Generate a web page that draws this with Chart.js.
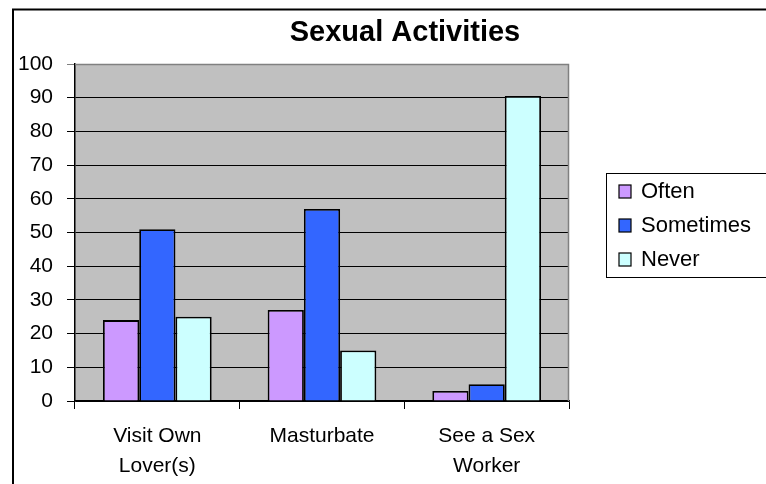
<!DOCTYPE html>
<html><head><meta charset="utf-8">
<script src="https://cdn.jsdelivr.net/npm/chart.js@4/dist/chart.umd.min.js"></script>
<style>html,body{margin:0;padding:0;background:#fff}#wrap{width:766px;height:484px}</style>
</head><body><div id="wrap"><canvas id="c" width="766" height="484"></canvas></div>
<script>
const chartTitle = "Sexual Activities";
const categories = [["Visit Own","Lover(s)"], "Masturbate", ["See a Sex","Worker"]];
const seriesNames = ["Often", "Sometimes", "Never"];
const often = [24, 27, 3];
const sometimes = [51, 57, 5];
const never = [25, 15, 90.5];
const yTicks = [0,10,20,30,40,50,60,70,80,90,100];
const colors = ["#CC99FF", "#3366FF", "#CCFFFF"];
const FONT = "'Liberation Sans', Arial, sans-serif";

const framePlugin = {
  id: 'frame',
  beforeDraw(chart) {
    const ctx = chart.ctx, a = chart.chartArea;
    ctx.save();
    ctx.fillStyle = '#fff';
    ctx.fillRect(0, 0, chart.width, chart.height);
    ctx.strokeStyle = '#000'; ctx.lineWidth = 2;
    ctx.beginPath(); ctx.moveTo(13, 484); ctx.lineTo(13, 9.5); ctx.lineTo(766, 9.5); ctx.stroke();
    ctx.fillStyle = '#C0C0C0';
    ctx.fillRect(a.left, a.top, a.right - a.left, a.bottom - a.top);
    // title
    ctx.fillStyle = '#000';
    ctx.font = 'bold 29px ' + FONT;
    ctx.textAlign = 'center'; ctx.textBaseline = 'middle';
    ctx.fillText(chartTitle, 405, 33);
    ctx.restore();
  },
  beforeDatasetsDraw(chart) {
    const ctx = chart.ctx, a = chart.chartArea;
    ctx.save();
    ctx.strokeStyle = '#808080'; ctx.lineWidth = 1.5;
    ctx.beginPath(); ctx.moveTo(a.left, a.top + 0.5); ctx.lineTo(a.right - 0.5, a.top + 0.5); ctx.lineTo(a.right - 0.5, a.bottom); ctx.stroke();
    ctx.restore();
  },
  afterDraw(chart) {
    const ctx = chart.ctx;
    ctx.save();
    ctx.strokeStyle = '#000'; ctx.lineWidth = 1;
    ctx.strokeRect(606.5, 173.5, 170, 104);
    ctx.font = '22px ' + FONT;
    ctx.textBaseline = 'middle';
    const rows = [191, 225, 259];
    chart.data.datasets.forEach((ds, i) => {
      ctx.fillStyle = ds.backgroundColor;
      ctx.fillRect(619, rows[i] - 6, 12, 13);
      ctx.strokeStyle = '#000'; ctx.lineWidth = 1.2;
      ctx.strokeRect(619, rows[i] - 6, 12, 13);
      ctx.fillStyle = '#000';
      ctx.fillText(ds.label, 641, rows[i] + 1);
    });
    ctx.restore();
  }
};

new Chart(document.getElementById('c'), {
  type: 'bar',
  data: {
    labels: categories,
    datasets: [
      { label: seriesNames[0], data: often, backgroundColor: colors[0] },
      { label: seriesNames[1], data: sometimes, backgroundColor: colors[1] },
      { label: seriesNames[2], data: never, backgroundColor: colors[2] }
    ].map(d => Object.assign(d, { borderColor: '#000', borderWidth: 1.8, categoryPercentage: 0.66, barPercentage: 1.0 }))
  },
  options: {
    responsive: false,
    animation: false,
    layout: { padding: { left: 14, right: 0, top: 64, bottom: 0 } },
    plugins: {
      legend: { display: false },
      tooltip: { enabled: false },
      title: { display: false }
    },
    scales: {
      x: {
        grid: { display: true, drawOnChartArea: false, drawTicks: true, tickLength: 8, color: '#000', offset: true },
        border: { display: true, color: '#000', width: 1.5 },
        ticks: { color: '#000', font: { family: FONT, size: 21, lineHeight: 1.42 }, padding: 12, maxRotation: 0 },
        afterFit(s) { s.height = 83; }
      },
      y: {
        min: 0, max: 100,
        grid: { color: ctx => (ctx.tick && ctx.tick.value === 100) ? '#808080' : '#000', lineWidth: 1, tickLength: 8, drawTicks: true },
        border: { display: true, color: '#000', width: 1.5 },
        ticks: { color: '#000', font: { family: FONT, size: 21 }, padding: 14, stepSize: 10,
          callback: v => yTicks.includes(v) ? String(v) : '' },
        afterFit(s) { s.width = 61; }
      },
      y2: {
        position: 'right', display: true,
        grid: { display: false, drawTicks: false },
        border: { display: false },
        ticks: { display: false },
        afterFit(s) { s.width = 197; }
      }
    }
  },
  plugins: [framePlugin]
});
</script></body></html>
